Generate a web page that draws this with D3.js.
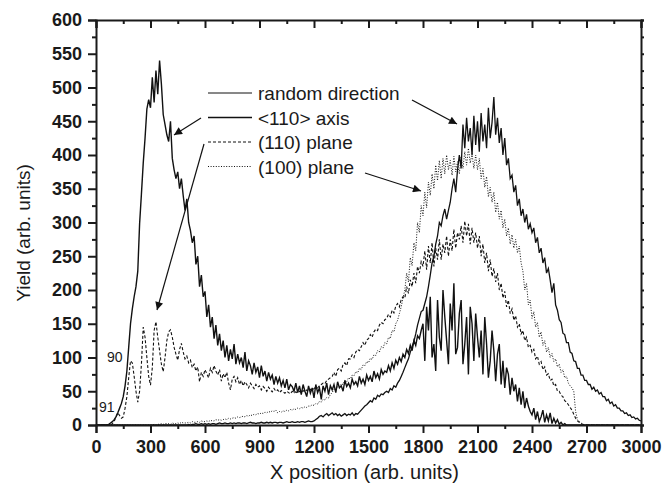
<!DOCTYPE html>
<html>
<head>
<meta charset="utf-8">
<script src="https://cdn.jsdelivr.net/npm/d3@7"></script>
<style>
  body { margin: 0; background: #fff; }
  svg { font-family: "Liberation Sans", Arial, sans-serif; }
  .axis path, .axis line { stroke: #1a1a1a; stroke-width: 2; }
  .axis text { font-size: 18px; font-weight: bold; fill: #1a1a1a; }
  .curve { fill: none; stroke: #111; }
</style>
</head>
<body>
<svg width="672" height="492"></svg>
<script>
// yield values sampled every 10 units of X position, 0..3000
var xStep = 10;

var axis110 = [
  0,0,0,0,0,0,0,1,3,5,
  8,12,18,25,32,42,58,80,115,150,
  172,190,205,228,298,342,388,425,468,482,
  470,515,478,525,490,540,505,460,445,430,
  420,450,395,378,365,375,350,365,340,318,
  335,300,288,270,280,238,250,205,222,190,
  198,160,178,145,160,128,148,118,135,110,
  125,100,118,95,112,98,120,90,105,92,
  100,85,108,80,95,88,75,92,78,86,
  70,88,72,80,65,78,68,74,60,72,
  62,70,58,66,55,68,52,60,57,50,
  62,48,58,45,60,50,42,58,47,55,
  40,60,48,55,38,58,50,62,45,58,
  52,60,48,64,55,58,50,66,57,62,
  55,68,60,64,58,72,62,68,60,74,
  66,72,64,80,70,76,68,82,75,80,
  78,88,80,92,84,96,90,100,94,105,
  100,112,106,118,110,125,118,132,128,140,
  150,95,175,140,190,100,120,80,185,130,
  110,200,160,125,90,180,140,210,105,115,
  165,185,90,120,160,75,175,150,95,165,
  130,100,140,75,160,120,70,95,140,110,
  65,105,120,60,95,55,85,75,45,70,
  50,60,35,55,30,50,25,40,28,20,
  15,25,8,20,5,12,22,4,15,6,
  18,2,10,3,8,1,4,0,2,0,
  0,0,0,0,0,0,0,0,0,0,
  0,0,0,0,0,0,0,0,0,0,
  0,0,0,0,0,0,0,0,0,0,
  0,0,0,0,0,0,0,0,0,0,
  0
];

var randomDir = [
  0,0,0,0,0,0,0,0,0,0,
  0,0,0,0,0,0,0,0,0,0,
  0,0,0,0,0,0,0,0,0,0,
  0,0,0,0,0,0,0,0,0,0,
  0,0,0,0,0,0,0,0,0,0,
  0,1,0,1,1,2,1,1,2,1,
  2,1,2,1,2,2,1,2,3,2,
  2,3,2,2,3,2,3,2,3,3,
  2,3,3,2,3,4,3,3,2,3,
  3,4,3,3,4,3,4,3,4,4,
  3,4,4,3,4,5,4,4,5,4,
  4,5,4,5,5,4,5,6,5,5,
  6,8,10,13,14,12,15,17,14,16,
  18,15,17,14,16,13,15,17,14,16,
  15,18,14,17,16,19,22,25,28,30,
  33,36,34,40,38,44,42,46,45,48,
  50,48,54,52,58,56,62,66,72,78,
  85,92,98,108,116,124,135,148,158,168,
  170,180,190,205,222,240,250,268,280,300,
  295,310,320,305,318,330,350,365,345,378,
  400,380,445,410,455,420,440,400,458,415,
  450,405,462,420,445,410,470,425,448,486,
  430,455,418,440,400,425,385,395,365,370,
  345,355,325,335,310,320,300,312,290,298,
  285,292,270,278,255,262,240,248,225,232,
  215,196,210,178,170,156,152,136,134,122,
  122,108,106,95,94,84,84,74,74,66,
  66,60,60,53,56,50,52,46,48,42,
  42,36,38,32,34,28,30,25,25,21,
  21,17,18,14,15,11,12,9,10,7,
  6
];

var plane110 = [
  0,0,0,0,0,0,0,0,0,2,
  5,12,18,14,10,12,25,42,70,95,
  92,72,50,34,50,90,145,130,100,72,
  59,85,140,153,130,110,90,79,100,125,
  138,141,130,115,105,96,112,121,108,98,
  102,92,96,85,90,80,86,64,78,72,
  82,76,70,84,78,88,80,74,82,65,
  76,70,78,62,52,68,72,64,70,60,
  66,58,64,60,55,62,58,54,60,56,
  58,52,57,54,50,56,52,49,54,50,
  52,48,51,49,47,50,48,46,50,48,
  49,47,50,48,51,49,52,50,53,51,
  54,56,55,58,60,62,61,66,68,70,
  72,78,72,82,84,80,90,92,88,98,
  98,104,100,108,112,110,116,122,118,126,
  128,134,130,138,142,140,148,152,150,156,
  158,164,160,170,166,176,180,175,186,190,
  188,205,195,215,205,225,210,235,225,242,
  235,258,230,265,240,270,235,262,245,275,
  245,268,255,280,250,275,258,290,262,285,
  275,295,270,302,280,298,268,292,270,285,
  262,280,250,268,240,255,228,245,220,232,
  212,225,200,210,188,198,175,185,165,172,
  155,162,145,150,135,140,125,130,115,118,
  108,112,98,102,90,94,82,86,74,76,
  66,68,58,60,50,50,44,42,36,34,
  30,26,22,16,10,6,4,2,1,0,
  0,0,0,0,0,0,0,0,0,0,
  0,0,0,0,0,0,0,0,0,0,
  0,0,0,0,0,0,0,0,0,0,
  0
];

var plane100 = [
  0,0,0,0,0,0,0,0,0,0,
  0,0,0,0,0,0,0,0,0,0,
  0,0,0,0,0,0,0,0,0,0,
  0,0,1,0,1,1,2,1,2,2,
  2,1,3,2,2,3,2,4,3,3,
  3,4,3,5,4,4,5,4,6,5,
  5,6,5,7,6,6,8,7,8,7,
  8,9,8,10,9,10,11,10,12,11,
  12,13,12,14,13,15,14,16,15,17,
  16,18,17,19,18,20,19,21,20,22,
  18,20,19,21,20,22,21,23,22,24,
  23,25,24,26,25,27,26,28,28,30,
  29,32,31,35,34,38,37,41,40,45,
  48,53,52,57,56,61,60,66,64,70,
  68,74,73,79,77,84,82,89,88,94,
  92,99,97,104,103,110,108,116,114,122,
  120,130,128,140,138,150,155,165,175,188,
  200,225,212,248,236,270,258,300,285,325,
  310,345,322,360,340,372,350,385,362,392,
  365,395,372,400,378,392,370,398,375,390,
  372,398,380,405,385,410,388,402,380,400,
  378,395,365,380,352,368,338,352,330,345,
  315,330,305,318,292,305,280,292,268,282,
  262,275,255,265,240,228,200,210,178,185,
  158,168,145,152,130,138,118,125,108,115,
  100,106,94,98,86,90,78,82,70,72,
  62,58,55,50,20,8,5,3,1,0,
  0,0,0,0,0,0,0,0,0,0,
  0,0,0,0,0,0,0,0,0,0,
  0,0,0,0,0,0,0,0,0,0,
  0
];

var xTicks = [0, 300, 600, 900, 1200, 1500, 1800, 2100, 2400, 2700, 3000];
var yTicks = [0, 50, 100, 150, 200, 250, 300, 350, 400, 450, 500, 550, 600];
var legendLabels = ["random direction", "<110> axis", "(110) plane", "(100) plane"];

function drawChart() {
    var svg = d3.select("svg"),
        margin = { top: 20, right: 31, bottom: 67, left: 96 },
        width = +svg.attr("width") - margin.left - margin.right,
        height = +svg.attr("height") - margin.top - margin.bottom;

    var x = d3.scaleLinear().domain([0, 3000]).range([0, width]);
    var y = d3.scaleLinear().domain([0, 600]).range([height, 0]);

    var g = svg.append("g")
        .attr("transform", "translate(" + margin.left + "," + margin.top + ")");

    var defs = svg.append("defs");
    defs.append("clipPath").attr("id", "clip")
        .append("rect").attr("width", width).attr("height", height);
    defs.append("marker")
        .attr("id", "arrow")
        .attr("viewBox", "0 0 10 10")
        .attr("refX", 10).attr("refY", 5)
        .attr("markerUnits", "userSpaceOnUse")
        .attr("markerWidth", 11).attr("markerHeight", 8)
        .attr("orient", "auto")
        .append("path").attr("d", "M0,0L10,5L0,10z").attr("fill", "#111");

    var line = d3.line()
        .x(function (d, i) { return x(i * xStep); })
        .y(function (d) { return y(d); });

    var curves = g.append("g").attr("clip-path", "url(#clip)");
    curves.append("path").datum(plane100).attr("class", "curve")
        .attr("stroke-width", 1).attr("stroke-dasharray", "1,1.6").attr("d", line);
    curves.append("path").datum(plane110).attr("class", "curve")
        .attr("stroke-width", 1.1).attr("stroke-dasharray", "3,2").attr("d", line);
    curves.append("path").datum(randomDir).attr("class", "curve")
        .attr("stroke-width", 1.3).attr("d", line);
    curves.append("path").datum(axis110).attr("class", "curve")
        .attr("stroke-width", 1.4).attr("d", line);

    var minorX = xTicks.slice(0, -1).map(function (d) { return d + 150; });
    var minorY = yTicks.slice(0, -1).map(function (d) { return d + 25; });
    var noDomain = function (sel) { sel.select(".domain").remove(); };

    // bottom axis, ticks outward
    g.append("g").attr("class", "axis").attr("transform", "translate(0," + height + ")")
        .call(d3.axisBottom(x).tickValues(xTicks).tickFormat(d3.format("d")).tickSize(8).tickPadding(7));
    g.append("g").attr("class", "axis").attr("transform", "translate(0," + height + ")")
        .call(d3.axisBottom(x).tickValues(minorX).tickFormat("").tickSize(4)).call(noDomain);

    // top axis, ticks inward
    g.append("g").attr("class", "axis")
        .call(d3.axisTop(x).tickValues(xTicks).tickFormat("").tickSize(-8));
    g.append("g").attr("class", "axis")
        .call(d3.axisTop(x).tickValues(minorX).tickFormat("").tickSize(-4)).call(noDomain);

    // left axis
    g.append("g").attr("class", "axis")
        .call(d3.axisLeft(y).tickValues(yTicks).tickSize(8).tickPadding(6));
    g.append("g").attr("class", "axis")
        .call(d3.axisLeft(y).tickValues(minorY).tickFormat("").tickSize(4)).call(noDomain);

    // right axis, small ticks
    g.append("g").attr("class", "axis").attr("transform", "translate(" + width + ",0)")
        .call(d3.axisRight(y).tickValues(yTicks.concat(minorY)).tickFormat("").tickSize(3));

    g.selectAll(".axis text").attr("font-family", "Liberation Sans, Arial, sans-serif");

    // axis titles
    svg.append("text")
        .attr("transform", "translate(30,233) rotate(-90)")
        .attr("text-anchor", "middle")
        .attr("font-size", 19).attr("fill", "#1a1a1a")
        .text("Yield (arb. units)");
    svg.append("text")
        .attr("x", margin.left + width / 2 - 4).attr("y", 479)
        .attr("text-anchor", "middle")
        .attr("font-size", 20).attr("fill", "#1a1a1a")
        .text("X position (arb. units)");

    // legend
    var dashes = [null, null, "3,2", "1,1.6"];
    var widths = [1, 1.5, 1, 1];
    var legend = svg.append("g");
    legendLabels.forEach(function (label, i) {
        var ly = 93 + i * 24.5;
        legend.append("line")
            .attr("x1", 208).attr("x2", 252).attr("y1", ly).attr("y2", ly)
            .attr("stroke", "#111").attr("stroke-width", widths[i])
            .attr("stroke-dasharray", dashes[i]);
        legend.append("text")
            .attr("x", 258).attr("y", ly + 7)
            .attr("font-size", 19).attr("fill", "#1a1a1a")
            .text(label);
    });

    // arrows from legend entries to curves
    var arrows = [
        [412, 100, 457, 124],
        [201, 118, 174, 135],
        [204, 144, 157, 310],
        [365, 173, 421, 191]
    ];
    svg.selectAll(".arrow")
        .data(arrows)
        .enter().append("line")
        .attr("class", "arrow")
        .attr("x1", function (d) { return d[0]; })
        .attr("y1", function (d) { return d[1]; })
        .attr("x2", function (d) { return d[2]; })
        .attr("y2", function (d) { return d[3]; })
        .attr("stroke", "#111").attr("stroke-width", 1.2)
        .attr("marker-end", "url(#arrow)");

    // small peak labels
    svg.append("text").attr("x", 107).attr("y", 362).attr("font-size", 14)
        .attr("fill", "#1a1a1a").text("90");
    svg.append("text").attr("x", 99).attr("y", 412).attr("font-size", 14)
        .attr("fill", "#1a1a1a").text("91");
}

drawChart();
</script>
</body>
</html>
